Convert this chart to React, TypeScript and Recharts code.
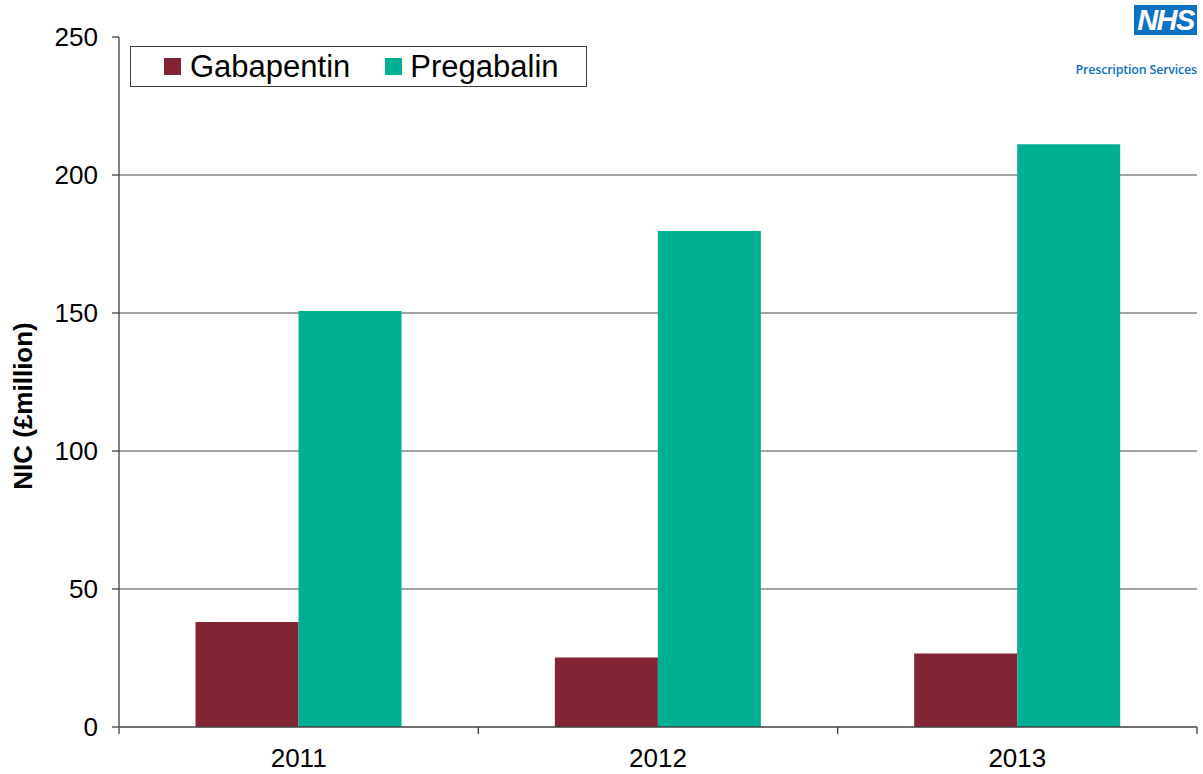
import { BarChart, Bar, XAxis, YAxis, CartesianGrid } from 'recharts';

const years = ['2011', '2012', '2013'];
const gabapentin = [38.0, 25.2, 26.6];
const pregabalin = [150.7, 179.7, 211.1];
const yTicks = [0, 50, 100, 150, 200, 250];
const gridValues = [50, 100, 150, 200];

const data = years.map((year, i) => ({
  year,
  gabapentin: gabapentin[i],
  pregabalin: pregabalin[i],
}));

const FONT = '"Liberation Sans", Arial, sans-serif';
const GABA = '#822433';
const PREG = '#00B092';
const AXIS = '#404040';

const W = 1203;
const H = 774;
const Y_AXIS_W = 119;
const RIGHT = 6;
const BAND = (W - Y_AXIS_W - RIGHT) / years.length;

// category label plus the tick marks on the category boundaries
const YearTick = ({ x, y, payload, index }: any) => (
  <g>
    <line x1={x - BAND / 2} x2={x - BAND / 2} y1={y} y2={y + 7} stroke={AXIS} strokeWidth={1.3} />
    {index === years.length - 1 && (
      <line x1={x + BAND / 2} x2={x + BAND / 2} y1={y} y2={y + 7} stroke={AXIS} strokeWidth={1.3} />
    )}
    <text x={x} y={y + 40} textAnchor="middle" fill="#000" fontSize={26} fontFamily={FONT}>
      {payload.value}
    </text>
  </g>
);

const ChartLegend = () => (
  <div
    style={{
      position: 'absolute',
      left: 130,
      top: 46,
      width: 457,
      height: 41,
      border: '1px solid #404040',
      boxSizing: 'border-box',
      display: 'flex',
      alignItems: 'center',
      fontFamily: FONT,
      fontSize: 31,
      color: '#000',
      background: '#fff',
      whiteSpace: 'nowrap',
    }}
  >
    <span style={{ width: 17, height: 17, background: GABA, marginLeft: 33, marginRight: 9, flex: 'none' }} />
    <span>Gabapentin</span>
    <span style={{ width: 17, height: 17, background: PREG, marginLeft: 35, marginRight: 8, flex: 'none' }} />
    <span>Pregabalin</span>
  </div>
);

export default function App() {
  return (
    <div style={{ position: 'absolute', left: 0, top: 0, width: W, height: H, background: '#fff' }}>
      <BarChart
        width={W}
        height={H}
        data={data}
        margin={{ top: 37, right: RIGHT, left: 0, bottom: 0 }}
        barGap={0}
        barCategoryGap="21.3%"
      >
        <CartesianGrid horizontal vertical={false} stroke="#868686" strokeWidth={1.3} horizontalValues={gridValues} />
        <XAxis
          dataKey="year"
          height={47}
          tick={<YearTick />}
          tickLine={false}
          tickSize={0}
          tickMargin={0}
          axisLine={{ stroke: AXIS, strokeWidth: 1.3 }}
        />
        <YAxis
          width={Y_AXIS_W}
          domain={[0, 250]}
          ticks={yTicks}
          interval={0}
          tick={{ fill: '#000', fontSize: 26, fontFamily: FONT }}
          tickSize={7}
          tickMargin={14}
          tickLine={{ stroke: AXIS, strokeWidth: 1.3 }}
          axisLine={{ stroke: AXIS, strokeWidth: 1.3 }}
          label={{
            value: 'NIC (£million)',
            angle: -90,
            position: 'insideLeft',
            dx: 18,
            dy: 24,
            style: { fontFamily: FONT, fontSize: 26, fontWeight: 'bold', fill: '#000', textAnchor: 'middle' },
          }}
        />
        <Bar dataKey="gabapentin" name="Gabapentin" fill={GABA} isAnimationActive={false} />
        <Bar dataKey="pregabalin" name="Pregabalin" fill={PREG} isAnimationActive={false} />
      </BarChart>
      <ChartLegend />
      <div
        style={{
          position: 'absolute',
          left: 1134,
          top: 5,
          width: 63,
          height: 30,
          background: '#0A72C4',
          color: '#fff',
          fontFamily: FONT,
          fontWeight: 'bold',
          fontStyle: 'italic',
          fontSize: 29,
          lineHeight: '30px',
          textAlign: 'center',
          letterSpacing: -1.5,
          overflow: 'hidden',
        }}
      >
        NHS
      </div>
      <div
        style={{
          position: 'absolute',
          right: 6,
          top: 61,
          color: '#0A72C4',
          fontFamily: '"Open Sans", sans-serif',
          fontWeight: 600,
          fontSize: 12.5,
          letterSpacing: -0.2,
        }}
      >
        Prescription Services
      </div>
    </div>
  );
}
